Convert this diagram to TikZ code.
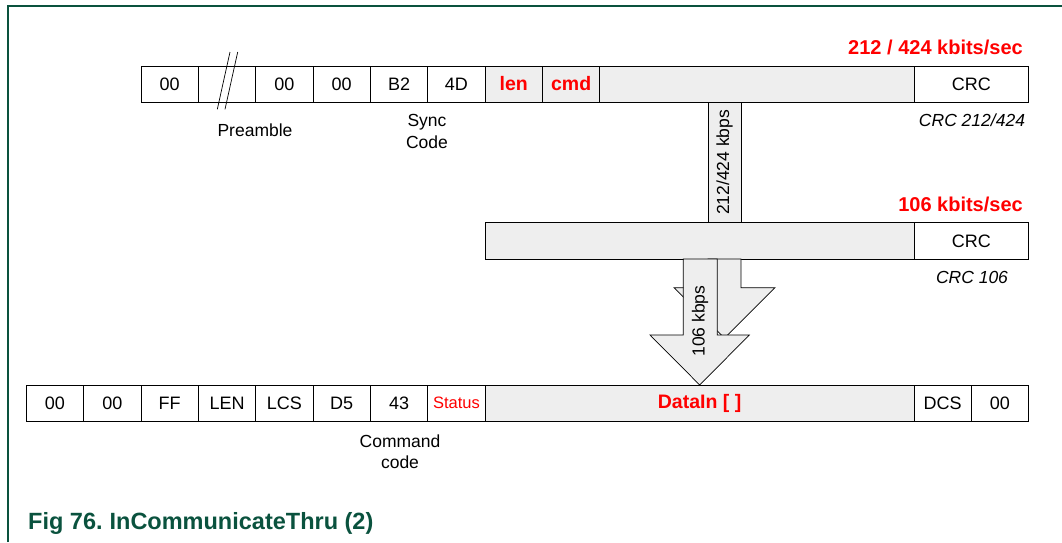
\documentclass[tikz,border=0pt]{standalone}
\usepackage{fontspec}
\setmainfont{Liberation Sans}
\definecolor{gfill}{RGB}{238,238,238}
\definecolor{capgreen}{RGB}{10,82,62}
\begin{document}
\begin{tikzpicture}[x=1pt,y=-1pt,
  cell/.style={draw=black,line width=0.8pt,minimum height=36pt,inner sep=0pt,outer sep=0pt,font=\fontsize{18}{20}\selectfont},
  gcell/.style={cell,fill=gfill},
  redb/.style={text=red,font=\fontsize{19.5}{22}\selectfont\bfseries},
  annot/.style={inner sep=0pt,font=\fontsize{17.5}{21.5}\selectfont},
  annoti/.style={inner sep=0pt,font=\fontsize{17.5}{21.5}\selectfont\itshape},
  rate/.style={inner sep=0pt,text=red,font=\fontsize{20}{22}\selectfont\bfseries},
  arrowshape/.style={fill=gfill,draw=black,line width=0.7pt,line join=miter},
  frameline/.style={draw=capgreen,line width=1.2pt}
]
\useasboundingbox (0,0) rectangle (1062,542);
\draw[frameline] (8,542) -- (8,6) -- (1062,6);

% top row
\node[cell,minimum width=57.35pt] (t1) at (169.675,84) {00};
\node[cell,minimum width=57.35pt] (t2) at (227.025,84) {};
\node[cell,minimum width=57.35pt] (t3) at (284.375,84) {00};
\node[cell,minimum width=57.35pt] (t4) at (341.725,84) {00};
\node[cell,minimum width=57.35pt] (t5) at (399.075,84) {B2};
\node[cell,minimum width=57.35pt] (t6) at (456.425,84) {4D};
\node[gcell,redb,minimum width=57.35pt] (t7) at (513.775,84) {len};
\node[gcell,redb,minimum width=57.35pt] (t8) at (571.125,84) {cmd};
\node[gcell,minimum width=314.2pt] (t9) at (756.9,84) {};
\node[cell,minimum width=114.5pt] (t10) at (971.25,84) {CRC};
\draw[line width=0.7pt] (230,52) -- (217.3,109.3);
\draw[line width=0.7pt] (237.7,52) -- (225,109.3);

\node[rate,anchor=base east] (r1) at (1023,54.5) {212 / 424 kbits/sec};
\node[annoti] (c1) at (972,120) {CRC 212/424};
\node[annot] (pre) at (255,130) {Preamble};
\node[annot,align=center] (sync) at (427,131.5) {Sync\\Code};

% narrow transfer box
\node[draw=black,fill=gfill,line width=0.8pt,rotate=90,minimum width=120.7pt,minimum height=33pt,inner sep=0pt,font=\fontsize{17.5}{20}\selectfont] (n1) at (724.5,162.35) {212/424 kbps};

% middle row
\node[gcell,minimum width=428.9pt,minimum height=36.3pt] (m1) at (699.55,240.85) {};
\node[cell,minimum width=114.5pt,minimum height=36.3pt] (m2) at (971.25,240.85) {CRC};
\node[rate,anchor=base east] (r2) at (1023,211.2) {106 kbits/sec};
\node[annoti] (c2) at (972,277) {CRC 106};

% arrows
\draw[arrowshape] (708,259) -- (708,287.7) -- (674,287.7) -- (724.5,338) -- (775,287.7) -- (741,287.7) -- (741,259) -- cycle;
\draw[arrowshape] (683.3,259) -- (683.3,335) -- (650,335) -- (699.7,385) -- (749.3,335) -- (717.3,335) -- (717.3,259) -- cycle;
\node[annot,rotate=90] (fa) at (700,321) {106 kbps};

% bottom row
\node[cell,minimum width=57.35pt] (b1) at (54.975,403) {00};
\node[cell,minimum width=57.35pt] (b2) at (112.325,403) {00};
\node[cell,minimum width=57.35pt] (b3) at (169.675,403) {FF};
\node[cell,minimum width=57.35pt] (b4) at (227.025,403) {LEN};
\node[cell,minimum width=57.35pt] (b5) at (284.375,403) {LCS};
\node[cell,minimum width=57.35pt] (b6) at (341.725,403) {D5};
\node[cell,minimum width=57.35pt] (b7) at (399.075,403) {43};
\node[cell,minimum width=57.35pt,text=red,font=\fontsize{16.5}{18}\selectfont] (b8) at (456.425,403) {Status};
\node[gcell,redb,minimum width=428.9pt] (b9) at (699.55,403) {DataIn [ ]};
\node[cell,minimum width=57pt] (b10) at (942.5,403) {DCS};
\node[cell,minimum width=57.5pt] (b11) at (999.75,403) {00};
\node[annot,align=center] (cmdc) at (400,451.5) {Command\\code};

\node[anchor=base west,inner sep=0pt,text=capgreen,font=\fontsize{23.5}{26}\selectfont\bfseries] (cap) at (28,529.3) {Fig 76.\hspace{7pt}InCommunicateThru (2)};
\end{tikzpicture}
\end{document}
